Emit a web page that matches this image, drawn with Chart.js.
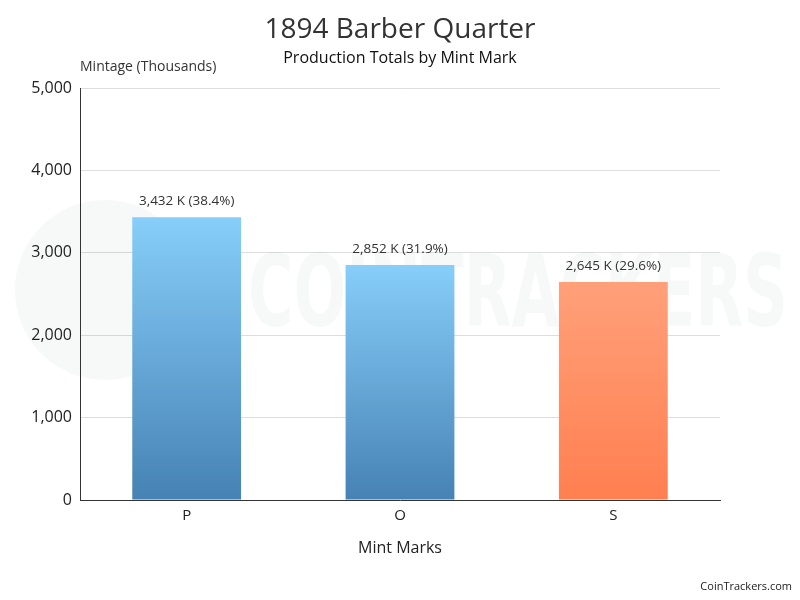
<!DOCTYPE html>
<html>
<head>
<meta charset="utf-8">
<script src="https://cdn.jsdelivr.net/npm/chart.js@4.4.1/dist/chart.umd.min.js"></script>
<style>
  html, body { margin: 0; padding: 0; background: #fff; }
  #wrap { width: 800px; height: 600px; position: relative; }
</style>
</head>
<body>
<div id="wrap"><canvas id="mintChart" width="800" height="600"></canvas></div>
<script>
const mintMarks = ['P', 'O', 'S'];
const mintage = [3432, 2852, 2645];
const shares = [38.4, 31.9, 29.6];
const yTicks = [0, 1000, 2000, 3000, 4000, 5000];

const topColors = ['#87CEFA', '#87CEFA', '#FFA07A'];
const bottomColors = ['#4682B4', '#4682B4', '#FF7F50'];

const FONT = "'Open Sans', sans-serif";

function barGradient(ctx) {
  const chart = ctx.chart;
  const area = chart.chartArea;
  const i = ctx.dataIndex;
  if (!area) return bottomColors[i];
  const y = chart.scales.y;
  const g = chart.ctx.createLinearGradient(0, y.getPixelForValue(mintage[i]), 0, y.getPixelForValue(0));
  g.addColorStop(0, topColors[i]);
  g.addColorStop(1, bottomColors[i]);
  return g;
}

// titles, y-axis caption, watermark, footer
const decor = {
  id: 'decor',
  beforeDatasetsDraw(chart) {
    const c = chart.ctx;
    c.save();
    c.fillStyle = 'rgba(60,70,80,0.04)';
    c.beginPath();
    c.arc(105, 290, 90, 0, Math.PI * 2);
    c.fill();
    c.font = "bold 100px 'Liberation Sans Narrow', 'DejaVu Sans Condensed', sans-serif";
    c.textBaseline = 'middle';
    const w = c.measureText('COINTRACKERS').width;
    c.translate(248, 300);
    c.scale(540 / w, 1);
    c.fillText('COINTRACKERS', 0, 0);
    c.restore();
  },
  afterDraw(chart) {
    const c = chart.ctx;
    const area = chart.chartArea;
    c.save();
    c.textBaseline = 'middle';
    c.textAlign = 'center';
    c.fillStyle = '#333';
    c.font = '28px ' + FONT;
    c.fillText('1894 Barber Quarter', 400, 30);
    c.fillStyle = '#111';
    c.font = '16px ' + FONT;
    c.fillText('Production Totals by Mint Mark', 400, 58);
    c.textAlign = 'left';
    c.fillStyle = '#333';
    c.font = '14px ' + FONT;
    c.fillText('Mintage (Thousands)', area.left, 67);
    c.textAlign = 'right';
    c.fillStyle = '#222';
    c.font = '11px ' + FONT;
    c.fillText('CoinTrackers.com', 792, 587);

    // value labels over bars
    const meta = chart.getDatasetMeta(0);
    c.textAlign = 'center';
    c.fillStyle = '#333';
    c.font = '13.5px ' + FONT;
    meta.data.forEach((bar, i) => {
      c.fillText(mintage[i].toLocaleString('en-US') + ' K (' + shares[i].toFixed(1) + '%)', bar.x, bar.y - 16);
    });
    c.restore();
  }
};

new Chart(document.getElementById('mintChart'), {
  type: 'bar',
  data: {
    labels: mintMarks,
    datasets: [{
      data: mintage,
      backgroundColor: barGradient,
      borderWidth: 0,
      categoryPercentage: 1,
      barPercentage: 0.51
    }]
  },
  options: {
    responsive: false,
    animation: false,
    layout: { padding: { top: 88, right: 80, left: 0, bottom: 42 } },
    plugins: {
      legend: { display: false },
      tooltip: { enabled: false }
    },
    scales: {
      x: {
        grid: { display: false, drawTicks: false },
        border: { display: true, color: '#333', width: 1 },
        ticks: { color: '#222', font: { family: FONT, size: 15 }, padding: 7 },
        title: { display: true, text: 'Mint Marks', color: '#222', font: { family: FONT, size: 16 }, padding: { top: 8, bottom: 0 } },
        afterFit(scale) { scale.height = 58; }
      },
      y: {
        min: 0,
        max: 5000,
        afterBuildTicks(scale) { scale.ticks = yTicks.map(v => ({ value: v })); },
        grid: { color: '#dddddd', drawTicks: false },
        border: { display: true, color: '#333', width: 1 },
        ticks: {
          color: '#222',
          font: { family: FONT, size: 16 },
          padding: 8,
          callback: v => v.toLocaleString('en-US')
        },
        afterFit(scale) { scale.width = 80; }
      }
    }
  },
  plugins: [decor]
});
</script>
</body>
</html>
